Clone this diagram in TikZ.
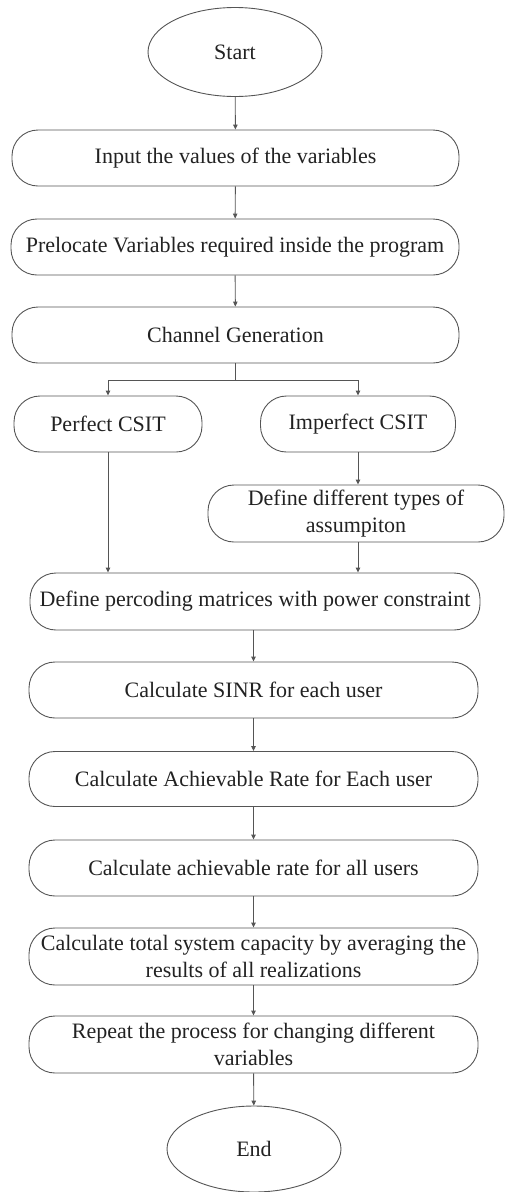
\documentclass[tikz,border=0pt]{standalone}
\usepackage{fontspec}
\setmainfont{Liberation Serif}
\usetikzlibrary{shapes.geometric,arrows.meta,calc}
\definecolor{linegray}{HTML}{555555}
\definecolor{textgray}{HTML}{222222}
\begin{document}
\begin{tikzpicture}[x=1pt,y=1pt,
  every node/.style={font=\fontsize{22}{27}\selectfont, text=textgray},
  terminal/.style={ellipse, draw=linegray, line width=0.9pt, inner sep=0pt},
  procbox/.style={rectangle, rounded corners=26pt, draw=linegray, line width=0.9pt, inner sep=0pt, align=center},
  flow/.style={draw=linegray, line width=0.9pt, -{Triangle[length=5pt,width=4.5pt]}}
]
\useasboundingbox (0,0) rectangle (505,-1192);

\node[terminal, minimum width=174pt, minimum height=89pt] (start) at (235,-52) {Start};
\node[procbox, minimum width=447pt, minimum height=56pt] (input) at (235.5,-158) {Input the values of the variables};
\node[procbox, minimum width=448pt, minimum height=56pt] (preloc) at (235,-247) {Prelocate Variables required inside the program};
\node[procbox, minimum width=447pt, minimum height=56pt] (channel) at (235.5,-335) {Channel Generation};
\node[procbox, minimum width=188pt, minimum height=56pt] (perfect) at (108,-424) {Perfect CSIT};
\node[procbox, minimum width=195pt, minimum height=56pt] (imperfect) at (358,-424) {Imperfect CSIT};
\node[procbox, minimum width=296pt, minimum height=57pt] (assume) at (356,-513.5) {Define different types of\\assumpiton};
\node[procbox, minimum width=450pt, minimum height=57pt] (precoding) at (255,-601.5) {Define percoding matrices with power constraint};
\node[procbox, minimum width=449pt, minimum height=56pt] (sinr) at (253.5,-690) {Calculate SINR for each user};
\node[procbox, minimum width=449pt, minimum height=55pt] (each) at (253.5,-779) {Calculate Achievable Rate for Each user};
\node[procbox, minimum width=449pt, minimum height=56pt] (all) at (253.5,-868) {Calculate achievable rate for all users};
\node[procbox, minimum width=449pt, minimum height=57pt] (total) at (253.5,-956.5) {Calculate total system capacity by averaging the\\results of all realizations};
\node[procbox, minimum width=449pt, minimum height=57pt] (repeat) at (253.5,-1044.5) {Repeat the process for changing different\\variables};
\node[terminal, minimum width=174pt, minimum height=86pt] (end) at (254,-1149) {End};

\coordinate (split) at ($(channel.south)+(0,-17)$);

\draw[flow] (start) -- (input);
\draw[flow] (input) -- (preloc);
\draw[flow] (preloc) -- (channel);
\draw[draw=linegray, line width=0.9pt] (channel.south) -- (split);
\draw[flow] (split) -| (perfect.north);
\draw[flow] (split) -| (imperfect.north);
\draw[flow] (imperfect) -- (assume.north -| imperfect.south);
\draw[flow] (perfect.south) -- (perfect.south |- precoding.north);
\draw[flow] (assume.south -| imperfect.south) -- (imperfect.south |- precoding.north);
\draw[flow] (precoding.south -| sinr.north) -- (sinr.north);
\draw[flow] (sinr) -- (each);
\draw[flow] (each) -- (all);
\draw[flow] (all) -- (total);
\draw[flow] (total) -- (repeat);
\draw[flow] (repeat) -- (end);
\end{tikzpicture}
\end{document}
